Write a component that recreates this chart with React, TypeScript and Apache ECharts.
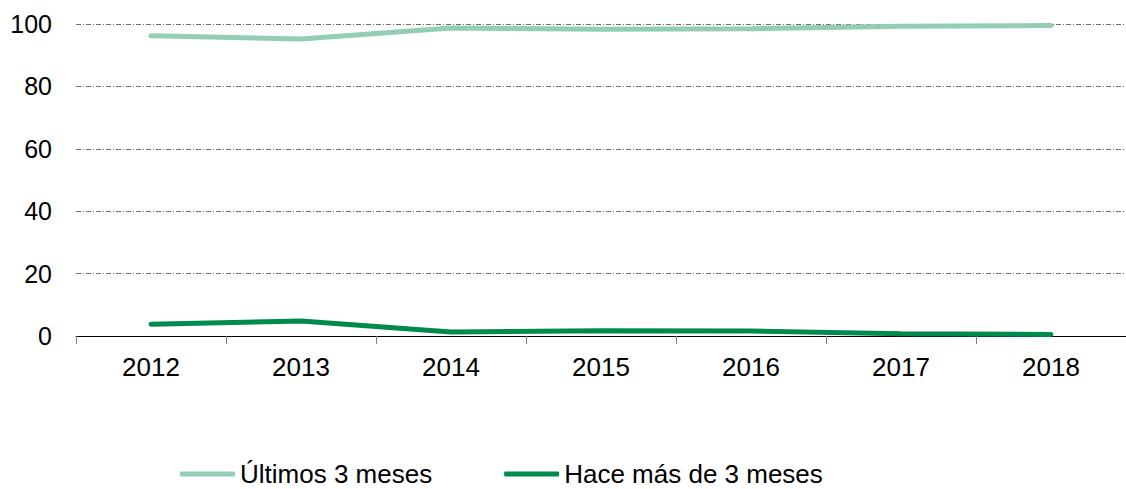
import React, { useEffect, useRef } from "react";
import * as echarts from "echarts";

const categories = ["2012", "2013", "2014", "2015", "2016", "2017", "2018"];
const ultimos = [96.2, 95.2, 98.7, 98.3, 98.5, 99.3, 99.5];
const hace = [3.8, 4.8, 1.3, 1.7, 1.6, 0.7, 0.5];
const seriesNames = ["Últimos 3 meses", "Hace más de 3 meses"];
const colors = ["#93CDB3", "#008A4B"];

const FONT = "'Liberation Sans', Arial, sans-serif";

export default function App() {
  const ref = useRef<HTMLDivElement>(null);
  useEffect(() => {
    if (!ref.current) return;
    const chart = echarts.init(ref.current, undefined, { renderer: "svg" });
    chart.setOption({
      animation: false,
      textStyle: { fontFamily: FONT },
      grid: { left: 76, top: 24, width: 1052, bottom: 153, containLabel: false },
      legend: {
        left: 180,
        top: 461,
        padding: 0,
        itemWidth: 55,
        itemHeight: 5,
        itemGap: 72,
        icon: "roundRect",
        textStyle: { fontFamily: FONT, fontSize: 26, lineHeight: 22, color: "#000" },
        data: seriesNames,
      },
      xAxis: {
        type: "category",
        data: categories,
        boundaryGap: true,
        axisLine: { show: true, lineStyle: { color: "#000", width: 1 } },
        axisTick: { show: true, length: 8, lineStyle: { color: "#7f7f7f" } },
        axisLabel: { fontFamily: FONT, fontSize: 26, color: "#000", margin: 18 },
        splitLine: { show: false },
      },
      yAxis: {
        type: "value",
        min: 0,
        max: 100,
        interval: 20,
        axisLine: { show: false },
        axisTick: { show: false },
        axisLabel: { fontFamily: FONT, fontSize: 25, color: "#000", margin: 24 },
        splitLine: {
          show: true,
          lineStyle: { color: "#6f6f6f", width: 1, type: [5, 2, 1, 2] },
        },
      },
      series: [
        {
          name: seriesNames[0],
          type: "line",
          data: ultimos,
          symbol: "none",
          lineStyle: { color: colors[0], width: 5, cap: "round" },
          itemStyle: { color: colors[0] },
          z: 3,
        },
        {
          name: seriesNames[1],
          type: "line",
          data: hace,
          symbol: "none",
          lineStyle: { color: colors[1], width: 5, cap: "round" },
          itemStyle: { color: colors[1] },
          z: 3,
        },
      ],
    });
    return () => chart.dispose();
  }, []);
  return (
    <div
      ref={ref}
      style={{ position: "fixed", left: 0, top: 0, width: 1126, height: 489, background: "#fff" }}
    />
  );
}
